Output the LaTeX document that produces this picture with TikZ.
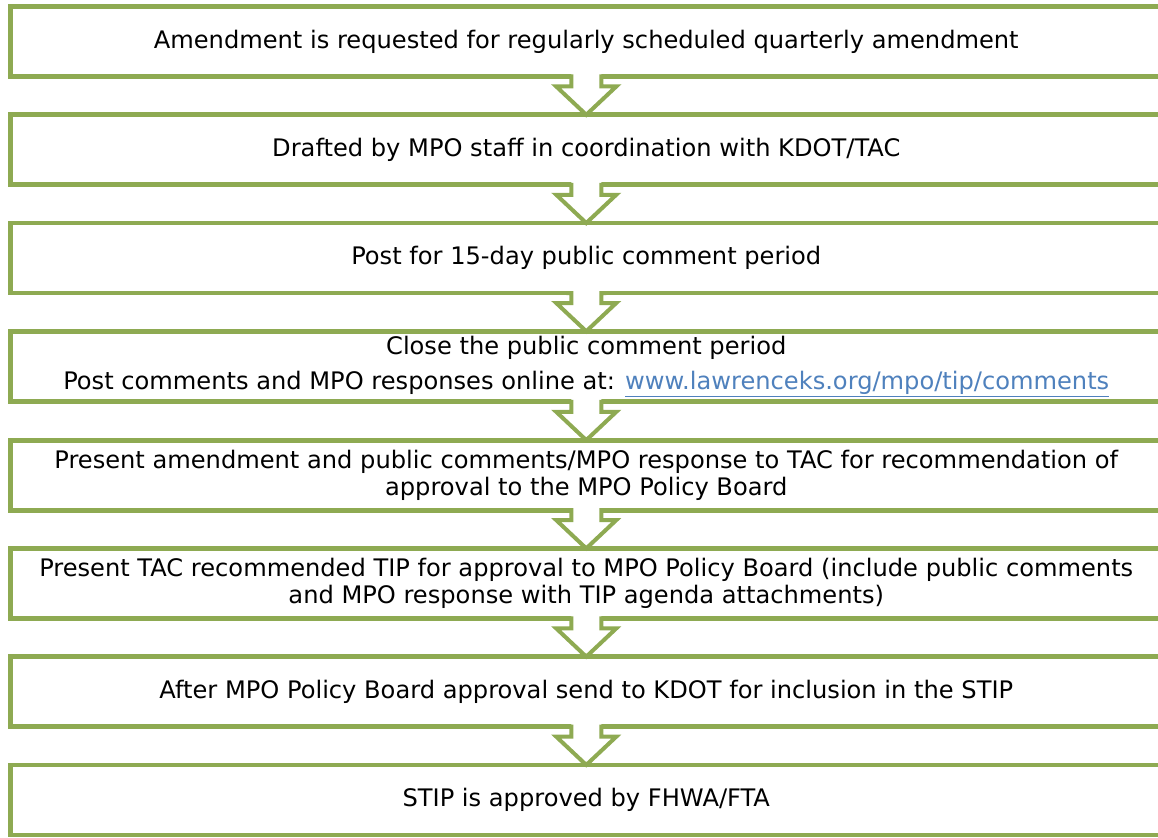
\documentclass[tikz,border=0pt]{standalone}
\usepackage{fontspec}
\setmainfont{DejaVu Sans}
\usetikzlibrary{calc,positioning}
\definecolor{boxgreen}{RGB}{142,170,82}
\definecolor{linkblue}{RGB}{79,129,189}

% hollow arrow between two steps
\newcommand{\flowarrow}[2]{%
\fill[white] ($(#1.south)+(-15,-3)$) -- ($(#1.south)+(-15,10)$) -- ($(#1.south)+(-30,10)$) -- (#2.north)
  -- ($(#1.south)+(30,10)$) -- ($(#1.south)+(15,10)$) -- ($(#1.south)+(15,-3)$) -- cycle;
\draw[flowline] ($(#1.south)+(-20,0)$) -- ($(#1.south)+(-15,0)$) -- ($(#1.south)+(-15,10)$) -- ($(#1.south)+(-30,10)$)
  -- (#2.north) -- ($(#1.south)+(30,10)$) -- ($(#1.south)+(15,10)$) -- ($(#1.south)+(15,0)$) -- ($(#1.south)+(20,0)$);
}

\begin{document}
\begin{tikzpicture}[x=0.75pt,y=-0.75pt,
  stepbox/.style={draw=boxgreen,line width=3.6pt,fill=white,outer sep=0pt,
    minimum width=863.6pt,minimum height=52.5pt,align=center,
    font=\fontsize{18.1}{20.25}\selectfont},
  flowline/.style={draw=boxgreen,line width=3pt,line join=miter}]
\useasboundingbox (0,0) rectangle (1158,838);
\clip (0,0) rectangle (1158,838);

% Steps
\node[stepbox] (s1) at (586.25,41.5) {Amendment is requested for regularly scheduled quarterly amendment};
\node[stepbox,below=28.7pt of s1] (s2) {Drafted by MPO staff in coordination with KDOT/TAC};
\node[stepbox,below=28.7pt of s2] (s3) {Post for 15-day public comment period};
\node[stepbox,below=28.7pt of s3] (s4) {Close the public comment period\\[6.5pt]
  Post comments and MPO responses online at: {\color{linkblue}\underline{www.lawrenceks.org/mpo/tip/comments}}};
\node[stepbox,below=28.7pt of s4] (s5) {Present amendment and public comments/MPO response to TAC for recommendation of\\
  approval to the MPO Policy Board};
\node[stepbox,below=28.7pt of s5] (s6) {Present TAC recommended TIP for approval to MPO Policy Board (include public comments\\
  and MPO response with TIP agenda attachments)};
\node[stepbox,below=28.7pt of s6] (s7) {After MPO Policy Board approval send to KDOT for inclusion in the STIP};
\node[stepbox,below=28.7pt of s7] (s8) {STIP is approved by FHWA/FTA};

% Arrows
\foreach \a/\b in {s1/s2,s2/s3,s3/s4,s4/s5,s5/s6,s6/s7,s7/s8}
  \flowarrow{\a}{\b};
\end{tikzpicture}
\end{document}
